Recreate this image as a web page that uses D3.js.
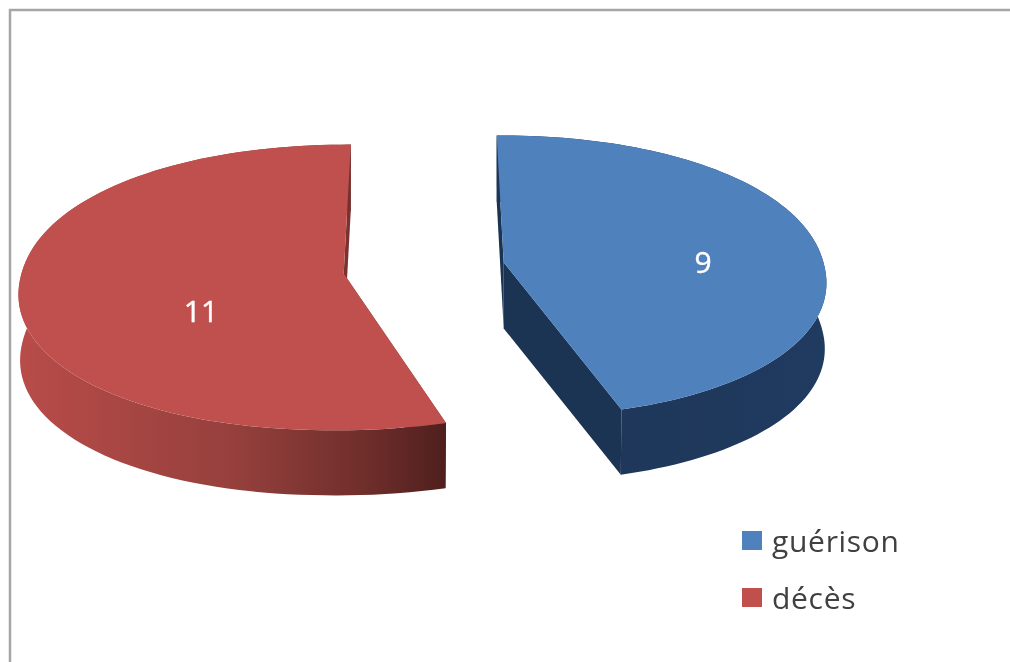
<!DOCTYPE html>
<html><head><meta charset="utf-8">
<script src="https://cdn.jsdelivr.net/npm/d3@7"></script>
<style>html,body{margin:0;background:#fff}svg{display:block;filter:blur(0.6px)}</style></head>
<body><svg id="c" width="1010" height="662"></svg>
<script>
const categories = ["guérison", "décès"];
const values = [9, 11];
const colors = ["#4f81bd", "#c0504d"];
const svg = d3.select("#c");
svg.append("rect").attr("x",10).attr("y",10).attr("width",1060).attr("height",700).attr("fill","#fff").attr("stroke","#a6a6a6").attr("stroke-width",2.5);

const defs = svg.append("defs");
const rg = defs.append("linearGradient").attr("id","redWall").attr("gradientUnits","userSpaceOnUse").attr("x1",18).attr("x2",447).attr("y1",0).attr("y2",0);
[[0,"#b84c49"],[0.5,"#96403d"],[0.8,"#702f2c"],[1,"#4f1f1d"]].forEach(s=>rg.append("stop").attr("offset",s[0]).attr("stop-color",s[1]));
const bg = defs.append("linearGradient").attr("id","blueWall").attr("gradientUnits","userSpaceOnUse").attr("x1",500).attr("x2",827).attr("y1",0).attr("y2",0);
[[0,"#1d3557"],[1,"#203b60"]].forEach(s=>bg.append("stop").attr("offset",s[0]).attr("stop-color",s[1]));

const arcs = d3.pie().sort(null)(values);
const P = 0.0967, K = 140.4, RX = 321, CX = 424, CY = 268, DEPTH = 66;
const explode = 81, N = 2.1, BOTTOM_SHRINK = 0.995;
function project(X, Y, z) {
  const w = 1 - P * Y;
  return [CX + (X * RX) / w, CY + (Y * K) / w + (z||0) * DEPTH];
}
function slice(a) {
  const mid = (a.startAngle + a.endAngle) / 2;
  const ox = Math.sin(mid) * explode / RX, oy = -Math.cos(mid) * explode / RX;
  const fat = t => Math.pow(Math.pow(Math.abs(Math.sin(t)), N) + Math.pow(Math.abs(Math.cos(t)), N), -1 / N);
  const pt = (r, t, z) => {
    const k = r * fat(t) * (z ? BOTTOM_SHRINK : 1);
    return project(ox + k * Math.sin(t), oy - k * Math.cos(t), z);
  };
  const ts = d3.range(0, 101).map(i => a.startAngle + (a.endAngle - a.startAngle) * i / 100);
  return {
    apex: pt(0, 0, 0), apexB: pt(0, 0, 1),
    rim: ts.map(t => pt(1, t, 0)), rimB: ts.map(t => pt(1, t, 1))
  };
}
const line = d3.line();
const shapes = arcs.map(slice);
shapes.forEach((s, i) => {
  const g = svg.append("g");
  const wall = i === 0 ? "url(#blueWall)" : "url(#redWall)";
  [[s.rim[0], s.rimB[0]], [s.rim[100], s.rimB[100]]].forEach(e => {
    g.append("path").attr("d", line([s.apex, e[0], e[1], s.apexB]) + "Z")
      .attr("fill", i === 0 ? "#1c3454" : "#7a3230");
  });
  g.append("path").attr("d", line(s.rim.concat(s.rimB.slice().reverse())) + "Z").attr("fill", wall);
  g.append("path").attr("d", line([s.apex].concat(s.rim)) + "Z").attr("fill", colors[i]);
});
const font = "'Open Sans','Noto Sans',sans-serif";
svg.append("g").selectAll("text").data(values).join("text")
  .attr("x", (d, i) => i === 0 ? 703 : 201).attr("y", (d, i) => i === 0 ? 273 : 322)
  .attr("text-anchor","middle")
  .attr("fill","#fff").attr("stroke","#fff").attr("stroke-width",0.4)
  .attr("font-family",font).attr("font-size",30).text(d => d);
const ly = d3.scalePoint().domain(categories).range([541, 598]);
const lg = svg.append("g").selectAll("g").data(categories).join("g");
lg.append("rect").attr("x",742).attr("y",d=>ly(d)-10).attr("width",20).attr("height",19).attr("fill",(d,i)=>colors[i]);
lg.append("text").attr("x",772).attr("y",d=>ly(d)+11)
  .attr("font-family",font).attr("font-size",30).attr("letter-spacing",0.7).attr("fill","#404040").text(d=>d);
</script></body></html>
